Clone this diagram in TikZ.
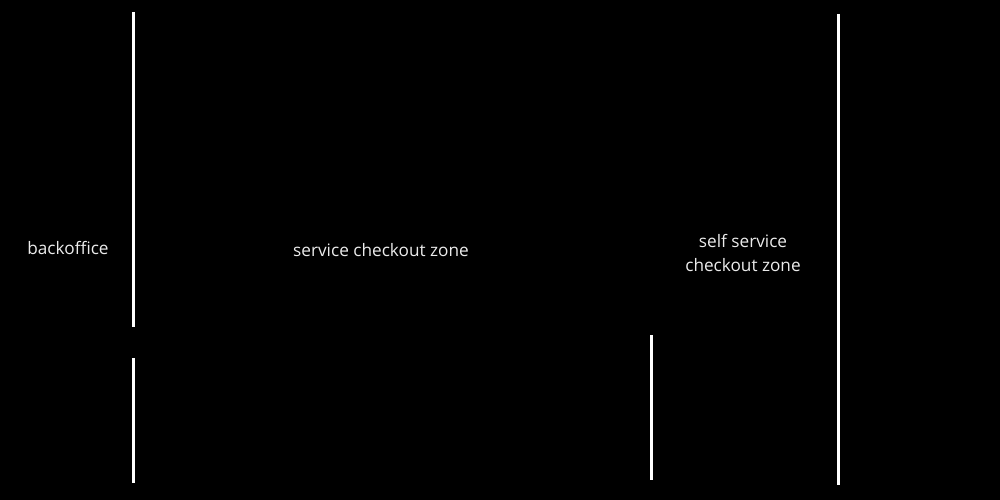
\documentclass[tikz,border=0pt]{standalone}
\usepackage{fontspec}
\setmainfont{Open Sans}
\begin{document}
\begin{tikzpicture}[x=1pt,y=-1pt,
  wall/.style={white,line width=3pt},
  lbl/.style={text=white!92!black,font=\fontsize{17.2}{24}\selectfont,align=center,inner sep=0pt}]
\fill[black] (0,0) rectangle (1000,500);
\useasboundingbox (0,0) rectangle (1000,500);
\coordinate (a1) at (133,12);
\coordinate (a2) at (133,327);
\coordinate (b1) at (133,358);
\coordinate (b2) at (133,483);
\coordinate (c1) at (651,335);
\coordinate (c2) at (651,480);
\coordinate (d1) at (838,14);
\coordinate (d2) at (838,485);
\draw[wall] (a1) -- (a2);
\draw[wall] (b1) -- (b2);
\draw[wall] (c1) -- (c2);
\draw[wall] (d1) -- (d2);
\node[lbl] (backoffice) at (68,248) {backoffice};
\node[lbl] (service) at (381,250) {service checkout zone};
\node[lbl] (self) at (743,253) {self service\\checkout zone};
\end{tikzpicture}
\end{document}
